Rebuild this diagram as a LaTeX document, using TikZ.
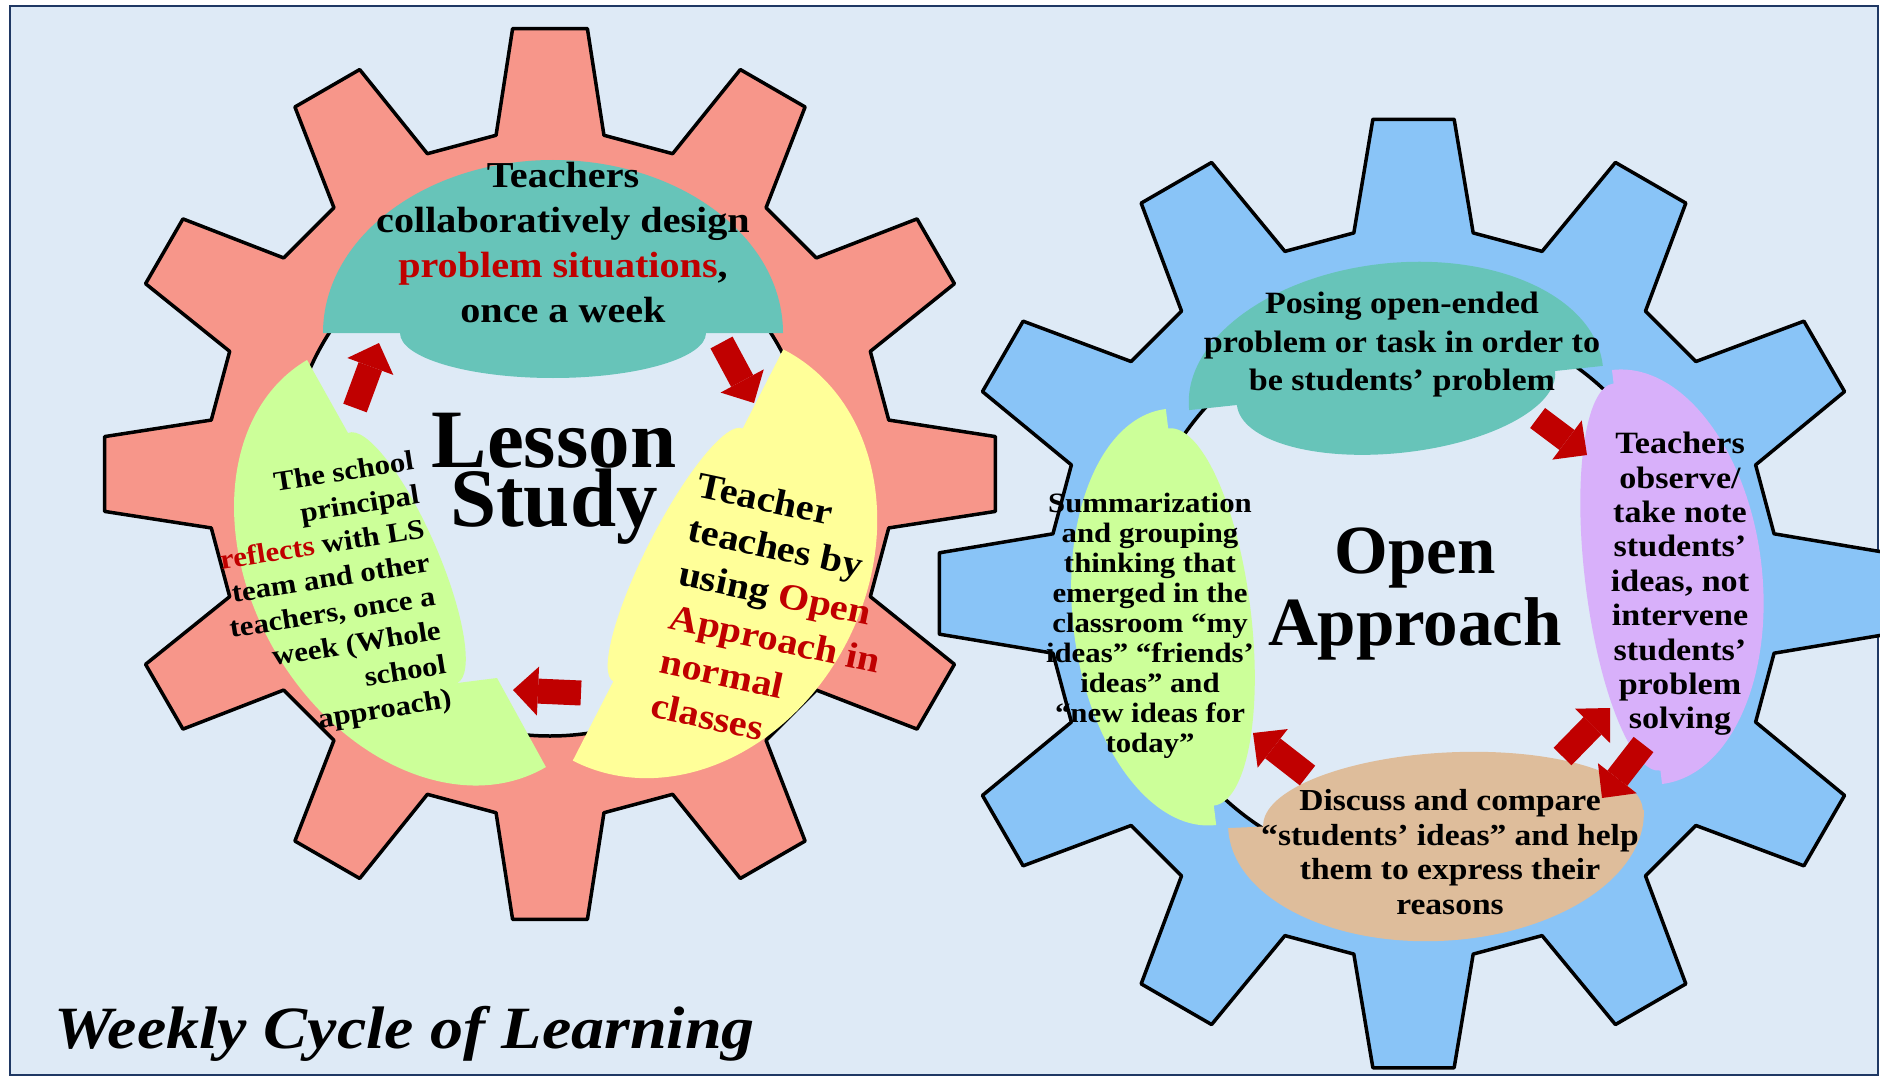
\documentclass[tikz,border=0pt]{standalone}
\usepackage{fontspec}
\setmainfont{Liberation Serif}[FakeStretch=1.1]
\newfontfamily\headfont{Liberation Serif}
\usetikzlibrary{calc,arrows.meta}
\definecolor{bgblue}{HTML}{DEEAF6}
\definecolor{framenavy}{HTML}{1F3864}
\definecolor{gearred}{HTML}{F7968A}
\definecolor{gearblue}{HTML}{89C4F7}
\definecolor{blobteal}{HTML}{67C4B9}
\definecolor{blobyellow}{HTML}{FFFF99}
\definecolor{bloblime}{HTML}{CCFF99}
\definecolor{blobpurple}{HTML}{D8B0FA}
\definecolor{blobtan}{HTML}{DEBD9B}
\definecolor{darkred}{HTML}{C00000}

\begin{document}
\begin{tikzpicture}[x=1pt,y=-1pt,
	gear/.style={draw=black,line width=3.5pt,line join=round,even odd rule},
	txt/.style 2 args={inner sep=0pt,align=center,font=\fontsize{#1}{#2}\selectfont\bfseries},
	head/.style 2 args={inner sep=0pt,align=center,font=\headfont\fontsize{#1}{#2}\selectfont\bfseries},
	blockarrow/.style={draw=darkred,line width=25pt,-{Triangle[length=25pt,width=49pt,line width=0pt]}}]
\useasboundingbox (0,0) rectangle (1880,1078);
\clip (0,0) rectangle (1880,1078);
\draw[framenavy,line width=2.5pt,fill=bgblue] (10,6) rectangle (1878,1075);

\coordinate (cL) at (550,474);
\coordinate (cR) at (1413.5,593.5);

\draw[gear,fill=gearred] ($(cL)+(-9.05:343)$)
	\foreach \k in {0,...,11}{
		-- ($(cL)+({30*\k-4.8}:447)$) -- ($(cL)+({30*\k+4.8}:447)$)
		-- ($(cL)+({30*\k+9.05}:343)$) -- ($(cL)+({30*\k+20.95}:343)$)
	} -- cycle (cL) circle[radius=262];
\draw[gear,fill=gearblue] ($(cR)+(-9.4:365.5)$)
	\foreach \k in {0,...,11}{
		-- ($(cR)+({30*\k-4.9}:476)$) -- ($(cR)+({30*\k+4.9}:476)$)
		-- ($(cR)+({30*\k+9.4}:365.5)$) -- ($(cR)+({30*\k+20.6}:365.5)$)
	} -- cycle (cR) circle[radius=279];

\fill[blobteal,shift={(553,333)}] (-230,0) arc[start angle=180,end angle=360,x radius=230,y radius=173]
	-- (153,0) arc[start angle=0,end angle=180,x radius=153,y radius=45] -- cycle;
\fill[blobyellow,shift={(678,555)},rotate=-117.1] (-231,0) arc[start angle=180,end angle=360,x radius=231,y radius=190]
	-- (142,0) arc[start angle=0,end angle=180,x radius=142,y radius=31] -- cycle;
\fill[bloblime] {[shift={(426.5,563.5)},rotate=120.4] (-236,0) arc[start angle=180,end angle=360,x radius=236,y radius=175]}
	-- (348,433) {[rotate=-66.44] arc[start angle=180,end angle=360,x radius=136.4,y radius=35]}
	-- (497,678) -- cycle;

\fill[blobteal,shift={(1396,388)},rotate=6.1] (-208,0) arc[start angle=180,end angle=360,x radius=208,y radius=125]
	-- (160,0) arc[start angle=0,end angle=180,x radius=160,y radius=65] -- cycle;
\fill[blobpurple,shift={(1637,577)},rotate=-83.1] (-208.5,0) arc[start angle=180,end angle=360,x radius=208.5,y radius=125]
	-- (195,0) arc[start angle=0,end angle=180,x radius=195,y radius=52] -- cycle;
\fill[blobtan,shift={(1436,819)},rotate=-177.5] (-208,0) arc[start angle=180,end angle=360,x radius=208,y radius=122]
	-- (173,0) arc[start angle=0,end angle=180,x radius=190,y radius=66] -- cycle;
\fill[bloblime,shift={(1191,617)},rotate=-263.1] (-209.5,0) arc[start angle=180,end angle=360,x radius=209.5,y radius=118]
	-- (190,0) arc[start angle=0,end angle=180,x radius=190,y radius=60] -- cycle;

\coordinate (p1) at (355,408); \coordinate (q1) at (379,343);
\coordinate (p2) at (721.5,342.5); \coordinate (q2) at (754,403);
\coordinate (p3) at (581,693); \coordinate (q3) at (513,690);
\coordinate (p4) at (1537.6,418); \coordinate (q4) at (1587,455);
\coordinate (p5) at (1643.5,744.5); \coordinate (q5) at (1602,798);
\coordinate (p6) at (1562.5,756.5); \coordinate (q6) at (1610,708);
\coordinate (p7) at (1307.5,775.5); \coordinate (q7) at (1253,733);
\foreach \i in {1,...,7}{
	\draw[blockarrow] (p\i) -- (q\i);
}

\node[txt={36.5}{45}] (tealL) at (563,243) {Teachers\\collaboratively design\\\textcolor{darkred}{problem situations},\\once a week};
\node[txt={36.5}{45},align=left,rotate=-12] (yellowL) at (780,617) {Teacher\\teaches by\\using \textcolor{darkred}{Open}\\\textcolor{darkred}{Approach in}\\\textcolor{darkred}{normal}\\\textcolor{darkred}{classes}};
\node[txt={28}{34.4},align=right,rotate=9] (limeL) at (330,598) {The school\\principal\\\textcolor{darkred}{reflects} with LS\\team and other\\teachers, once a\\week (Whole\\school\\approach)};
\node[head={83}{59}] (lesson) at (554,479) {Lesson\\Study};

\node[txt={31}{38.5}] (tealR) at (1402,345) {Posing open-ended\\problem or task in order to\\be students’ problem};
\node[txt={31}{34.4}] (purpleR) at (1680,584) {Teachers\\observe/\\take note\\students’\\ideas, not\\intervene\\students’\\problem\\solving};
\node[txt={30.5}{34.4}] (tanR) at (1450,852) {Discuss and compare\\“students’ ideas” and help\\them to express their\\reasons};
\node[txt={28}{30}] (limeR) at (1150,626) {Summarization\\and grouping\\thinking that\\emerged in the\\classroom “my\\ideas” “friends’\\ideas” and\\“new ideas for\\today”};
\node[head={69}{72}] (openapp) at (1415,594) {Open\\Approach};

\node[anchor=base west,inner sep=0pt,font=\fontsize{60}{72}\selectfont\bfseries\itshape] (title) at (54,1048) {Weekly Cycle of Learning};
\end{tikzpicture}
\end{document}
